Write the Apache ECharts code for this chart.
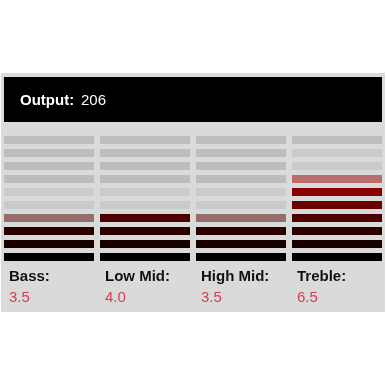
<!DOCTYPE html>
<html lang="en">
<head>
<meta charset="utf-8" />
<title>Equalizer</title>
<script src="https://cdn.jsdelivr.net/npm/echarts@6/dist/echarts.min.js"></script>
<style>
  html, body { margin: 0; padding: 0; background: #fff; }
  #main { width: 386px; height: 386px; }
</style>
</head>
<body>
<div id="main"></div>
<script type="text/javascript">
// bands and their levels
var bands = ['Bass', 'Low Mid', 'High Mid', 'Treble'];
var bandValues = [3.5, 4.0, 3.5, 6.5];
var levels = ['1', '2', '3', '4', '5', '6', '7', '8', '9', '10'];
var outputValue = 206;

// colour of a lit segment, from the bottom level up
var litColors = ['#000000', '#180000', '#2d0000', '#4e0000', '#6a0000', '#880000', '#9a0000', '#b00000', '#c80000', '#e00000'];
var panelColor = '#d8dbda';

function mix(hex, t) {
    // blend a colour with the panel grey
    var a = parseInt(hex.slice(1), 16), b = parseInt(panelColor.slice(1), 16);
    var r = Math.round(((a >> 16) & 255) * (1 - t) + ((b >> 16) & 255) * t);
    var g = Math.round(((a >> 8) & 255) * (1 - t) + ((b >> 8) & 255) * t);
    var bl = Math.round((a & 255) * (1 - t) + (b & 255) * t);
    return 'rgb(' + r + ',' + g + ',' + bl + ')';
}

var cells = [];
bands.forEach(function (b, i) {
    var v = bandValues[i];
    var full = Math.floor(v), top = Math.ceil(v);
    levels.forEach(function (l, j) {
        var lv = j + 1, color;
        if (lv <= full) color = litColors[j];
        else if (lv === top) color = mix(litColors[j], 0.5);
        else if (lv <= top + 2) color = '#c9cbca';
        else color = '#bdbdbd';
        cells.push({ value: [i, j], itemStyle: { color: color } });
    });
});

var chart = echarts.init(document.getElementById('main'));
var gridLeft = 1, gridWidth = 384;
var bandW = gridWidth / bands.length;

var graphics = [
    { type: 'rect', shape: { x: 1, y: 73, width: 384, height: 239 }, style: { fill: panelColor }, z: -10 },
    { type: 'rect', shape: { x: 4, y: 77, width: 378, height: 45 }, style: { fill: '#000' }, z: -5 },
    { type: 'text', x: 20, y: 100.5, style: { text: 'Output:', fill: '#fff', font: 'bold 15px "Liberation Sans", Arial, sans-serif', verticalAlign: 'middle' } },
    { type: 'text', x: 81, y: 100.5, style: { text: String(outputValue), fill: '#fff', font: '15px "Liberation Sans", Arial, sans-serif', verticalAlign: 'middle' } }
];
bands.forEach(function (b, i) {
    var x = gridLeft + i * bandW + 8;
    graphics.push({ type: 'text', x: x, y: 277, style: { text: b + ':', fill: '#111', font: 'bold 15px "Liberation Sans", Arial, sans-serif', verticalAlign: 'middle' } });
    graphics.push({ type: 'text', x: x, y: 298, style: { text: bandValues[i].toFixed(1), fill: '#dc3a4e', font: '15px "Liberation Sans", Arial, sans-serif', verticalAlign: 'middle' } });
});

chart.setOption({
    animation: false,
    grid: { left: gridLeft, width: gridWidth, top: 133.5, height: 130, containLabel: false },
    xAxis: { type: 'category', data: bands, show: false },
    yAxis: { type: 'category', data: levels, show: false },
    graphic: graphics,
    series: [{
        type: 'custom',
        renderItem: function (params, api) {
            var p = api.coord([api.value(0), api.value(1)]);
            var w = 90, h = 8;
            return {
                type: 'rect',
                shape: { x: p[0] - w / 2, y: p[1] - h / 2, width: w, height: h },
                style: { fill: api.visual('color') }
            };
        },
        encode: { x: 0, y: 1 },
        data: cells
    }]
});
</script>
</body>
</html>
